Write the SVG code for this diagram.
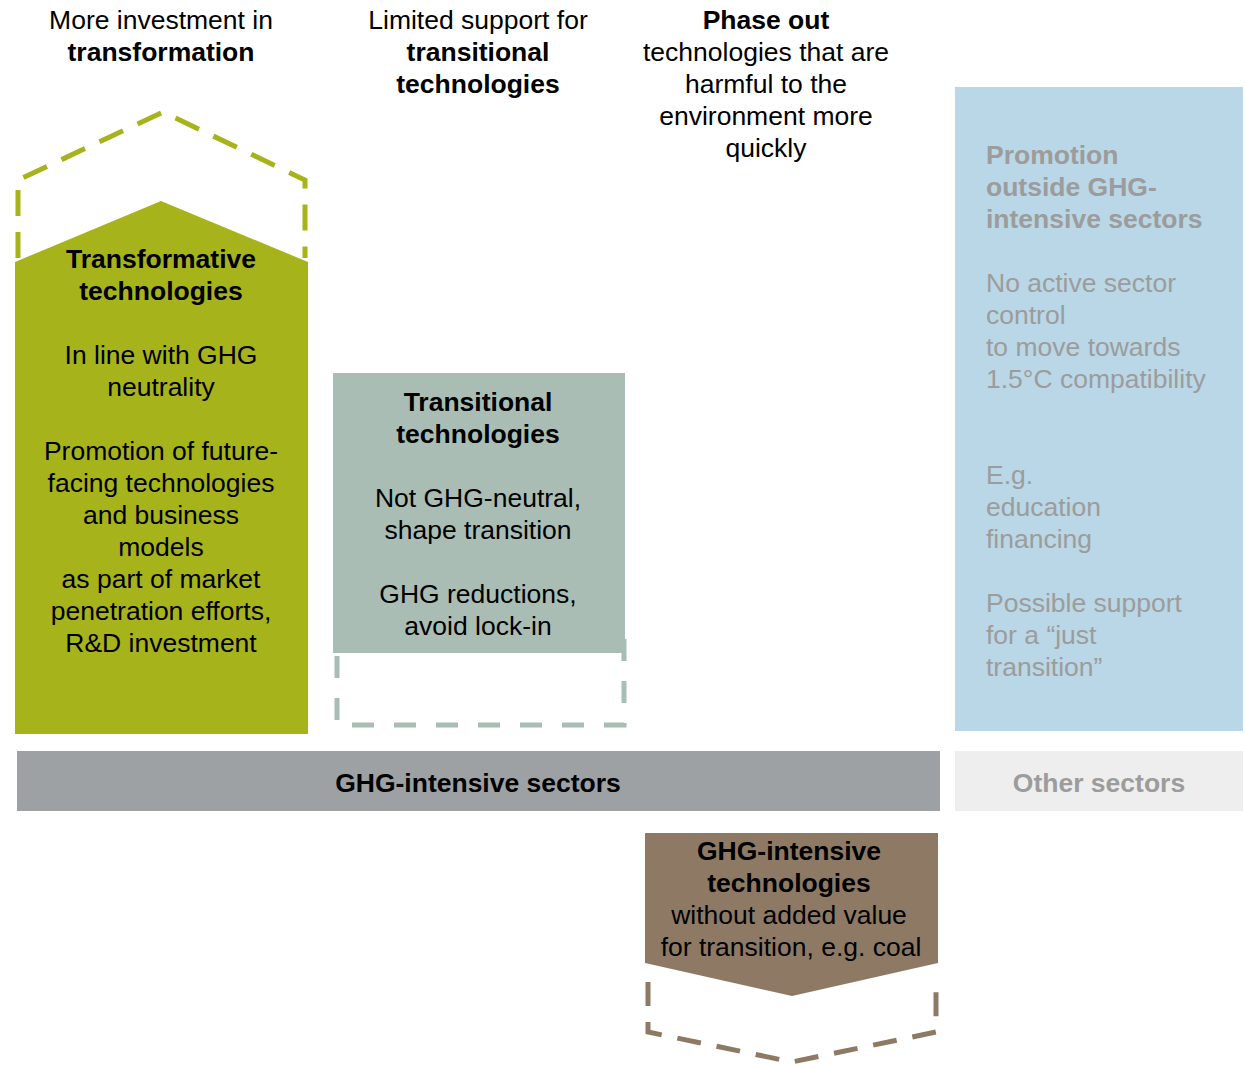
<svg xmlns="http://www.w3.org/2000/svg" width="1245" height="1065" viewBox="0 0 1245 1065">
  <style>
    text { font-family: "Liberation Sans", Arial, sans-serif; font-size: 26.5px; fill: #000; }
    .c { text-anchor: middle; }
    .b { font-weight: bold; }
    .g { fill: #9c9c9c; }
    .dash { fill: none; stroke-width: 5; stroke-linejoin: miter; }
  </style>

  <!-- column headers -->
  <g id="header-transformation">
    <text class="c" x="161" y="29">More investment in</text>
    <text class="c b" x="161" y="61">transformation</text>
  </g>
  <g id="header-transitional">
    <text class="c" x="478" y="29">Limited support for</text>
    <text class="c b" x="478" y="61">transitional</text>
    <text class="c b" x="478" y="93">technologies</text>
  </g>
  <g id="header-phaseout">
    <text class="c b" x="766" y="29">Phase out</text>
    <text class="c" x="766" y="61">technologies that are</text>
    <text class="c" x="766" y="93">harmful to the</text>
    <text class="c" x="766" y="125">environment more</text>
    <text class="c" x="766" y="157">quickly</text>
  </g>

  <!-- transformative technologies: upward arrow with dashed growth outline -->
  <g id="transformative">
    <path class="dash" stroke="#a6b31b" stroke-dasharray="26 16" d="M18,258 V180 L163,112 L305,180 V258"/>
    <polygon fill="#a6b31b" points="15,262 161,201 308,262 308,734 15,734"/>
    <text class="c b" x="161" y="268">Transformative</text>
    <text class="c b" x="161" y="300">technologies</text>
    <text class="c" x="161" y="364">In line with GHG</text>
    <text class="c" x="161" y="396">neutrality</text>
    <text class="c" x="161" y="460">Promotion of future-</text>
    <text class="c" x="161" y="492">facing technologies</text>
    <text class="c" x="161" y="524">and business</text>
    <text class="c" x="161" y="556">models</text>
    <text class="c" x="161" y="588">as part of market</text>
    <text class="c" x="161" y="620">penetration efforts,</text>
    <text class="c" x="161" y="652">R&amp;D investment</text>
  </g>

  <!-- transitional technologies: box with dashed shrink outline -->
  <g id="transitional">
    <path class="dash" stroke="#aabdb4" stroke-dasharray="22 20" d="M337,656 V725 H624 V636"/>
    <rect x="333" y="373" width="292" height="280" fill="#aabdb4"/>
    <text class="c b" x="478" y="411">Transitional</text>
    <text class="c b" x="478" y="443">technologies</text>
    <text class="c" x="478" y="507">Not GHG-neutral,</text>
    <text class="c" x="478" y="539">shape transition</text>
    <text class="c" x="478" y="603">GHG reductions,</text>
    <text class="c" x="478" y="635">avoid lock-in</text>
  </g>

  <!-- promotion outside GHG-intensive sectors -->
  <g id="other-promotion">
    <rect x="955" y="87" width="288" height="644" fill="#b9d7e6"/>
    <text class="b g" x="986" y="164">Promotion</text>
    <text class="b g" x="986" y="196">outside GHG-</text>
    <text class="b g" x="986" y="228">intensive sectors</text>
    <text class="g" x="986" y="292">No active sector</text>
    <text class="g" x="986" y="324">control</text>
    <text class="g" x="986" y="356">to move towards</text>
    <text class="g" x="986" y="388">1.5°C compatibility</text>
    <text class="g" x="986" y="484">E.g.</text>
    <text class="g" x="986" y="516">education</text>
    <text class="g" x="986" y="548">financing</text>
    <text class="g" x="986" y="612">Possible support</text>
    <text class="g" x="986" y="644">for a “just</text>
    <text class="g" x="986" y="676">transition”</text>
  </g>

  <!-- sector bars -->
  <g id="ghg-sectors">
    <rect x="17" y="751" width="923" height="60" fill="#9ea1a4"/>
    <text class="c b" x="478" y="792">GHG-intensive sectors</text>
  </g>
  <g id="other-sectors">
    <rect x="955" y="751" width="288" height="60" fill="#eeeeee"/>
    <text class="c b g" x="1099" y="792">Other sectors</text>
  </g>

  <!-- GHG-intensive technologies: downward arrow with dashed outline -->
  <g id="ghg-technologies">
    <path class="dash" stroke="#8e7a64" stroke-dasharray="24 16" d="M648,982 V1032 L792,1062 L936,1032 V978"/>
    <polygon fill="#8e7a64" points="645,833 938,833 938,963 792,996 645,963"/>
    <text class="c b" x="789" y="860">GHG-intensive</text>
    <text class="c b" x="789" y="892">technologies</text>
    <text class="c" x="789" y="924">without added value</text>
    <text class="c" x="791" y="956">for transition, e.g. coal</text>
  </g>

  <g id="connectors"></g>
</svg>
